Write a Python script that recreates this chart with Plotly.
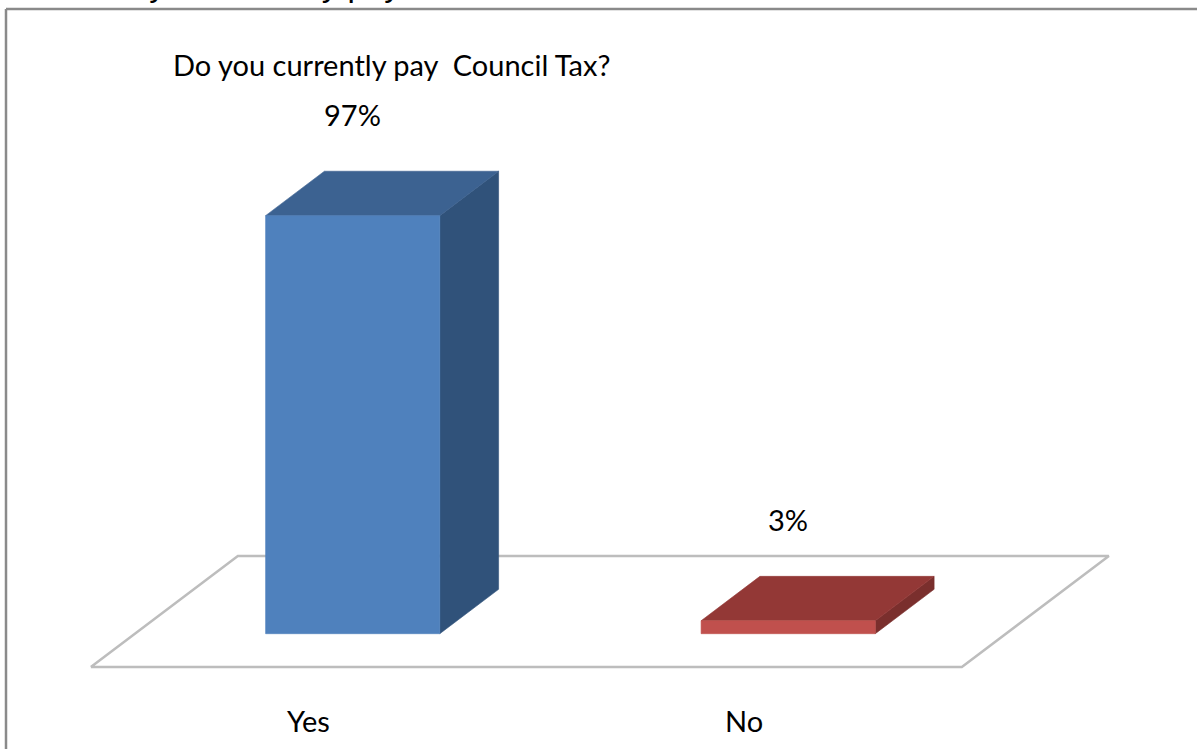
import plotly.graph_objects as go

# Survey result: share of respondents paying Council Tax
categories = ["Yes", "No"]
values = [97, 3]
value_labels = ["97%", "3%"]
title_text = "Do you currently pay  Council Tax?"
heading_text = "Do you currently pay Council Tax?"

# Face colours per category: front, top, side
front_colors = ["#4F81BD", "#C0504D"]
top_colors = ["#3C6291", "#933836"]
side_colors = ["#30527A", "#7A2F2D"]

W, H = 1197, 749

# Oblique projection set-up (pixels)
X_ORIGIN = 308.6     # first category centre on the floor's front edge
Y_ORIGIN = 667.0     # floor front edge, measured from the top
PX_PER_CAT = 435.5   # spacing between category centres
PX_PER_PCT = 4.31    # vertical pixels per percentage point
DEPTH_DX, DEPTH_DY = 147.0, 111.0   # screen offset of the full floor depth

BAR_WIDTH = 0.4          # gap width 150%
BAR_D0, BAR_D1 = 0.3, 0.7  # bar occupies the middle of the floor depth

dx = DEPTH_DX / PX_PER_CAT
dy = DEPTH_DY / PX_PER_PCT
x_range = [-X_ORIGIN / PX_PER_CAT, (W - X_ORIGIN) / PX_PER_CAT]
y_range = [-(H - Y_ORIGIN) / PX_PER_PCT, Y_ORIGIN / PX_PER_PCT]


def proj(x, y, d):
    """Map (category x, value y, depth d in 0..1) onto the 2-D axes."""
    return x + d * dx, y + d * dy


def polygon(points, fill, line_color=None, line_width=0.6):
    xs, ys = zip(*[proj(*p) for p in points])
    xs = list(xs) + [xs[0]]
    ys = list(ys) + [ys[0]]
    return go.Scatter(
        x=xs, y=ys, mode="lines", fill="toself" if fill else "none",
        fillcolor=fill if fill else None,
        line=dict(color=line_color or fill, width=line_width),
        hoverinfo="skip", showlegend=False,
    )


fig = go.Figure()

# Floor of the 3-D plot area
n = len(categories)
floor = [(-0.5, 0, 0), (n - 0.5, 0, 0), (n - 0.5, 0, 1), (-0.5, 0, 1)]
fig.add_trace(polygon(floor, "#FFFFFF", line_color="#BDBDBD", line_width=2.5))

# 3-D columns
for i, v in enumerate(values):
    xl, xr = i - BAR_WIDTH / 2, i + BAR_WIDTH / 2
    side = [(xr, 0, BAR_D0), (xr, 0, BAR_D1), (xr, v, BAR_D1), (xr, v, BAR_D0)]
    top = [(xl, v, BAR_D0), (xr, v, BAR_D0), (xr, v, BAR_D1), (xl, v, BAR_D1)]
    front = [(xl, 0, BAR_D0), (xr, 0, BAR_D0), (xr, v, BAR_D0), (xl, v, BAR_D0)]
    fig.add_trace(polygon(side, side_colors[i]))
    fig.add_trace(polygon(top, top_colors[i]))
    fig.add_trace(polygon(front, front_colors[i]))

label_font = dict(family="Lato, 'Open Sans', sans-serif", size=29, color="#000000")
annotations = []

# Value labels above each column
for i, (v, txt) in enumerate(zip(values, value_labels)):
    ax, ay = proj(i, v, BAR_D0)
    annotations.append(dict(
        x=ax, y=ay, xref="x", yref="y", text=txt, showarrow=False,
        font=label_font, xanchor="center", yanchor="middle", yshift=101,
    ))

# Category labels in front of the floor
for i, cat in enumerate(categories):
    annotations.append(dict(
        x=i, y=0, xref="x", yref="y", text=cat, showarrow=False,
        font=label_font, xanchor="center", yanchor="middle", yshift=-53,
    ))

# Chart title
annotations.append(dict(
    x=391 / W, y=1 - 64 / H, xref="paper", yref="paper", text=title_text,
    showarrow=False, font=label_font, xanchor="center", yanchor="middle",
))

# Page heading running off the top edge
annotations.append(dict(
    x=96 / W, y=1, xref="paper", yref="paper", text=heading_text,
    showarrow=False, xanchor="left", yanchor="bottom", yshift=-5,
    font=dict(family="Liberation Sans, Arial, sans-serif", size=33, color="#000000"),
))

fig.update_layout(
    width=W, height=H,
    margin=dict(l=0, r=0, t=0, b=0),
    paper_bgcolor="#FFFFFF", plot_bgcolor="#FFFFFF",
    xaxis=dict(range=x_range, visible=False, fixedrange=True),
    yaxis=dict(range=y_range, visible=False, fixedrange=True),
    annotations=annotations,
    shapes=[
        # chart frame (top and left edges)
        dict(type="line", xref="paper", yref="paper",
             x0=6 / W, x1=1.01, y0=1 - 9 / H, y1=1 - 9 / H,
             line=dict(color="#8A8A8A", width=2.5)),
        dict(type="line", xref="paper", yref="paper",
             x0=6 / W, x1=6 / W, y0=-0.01, y1=1 - 9 / H,
             line=dict(color="#8A8A8A", width=2.5)),
    ],
    showlegend=False,
)

fig.write_html("out.html")
